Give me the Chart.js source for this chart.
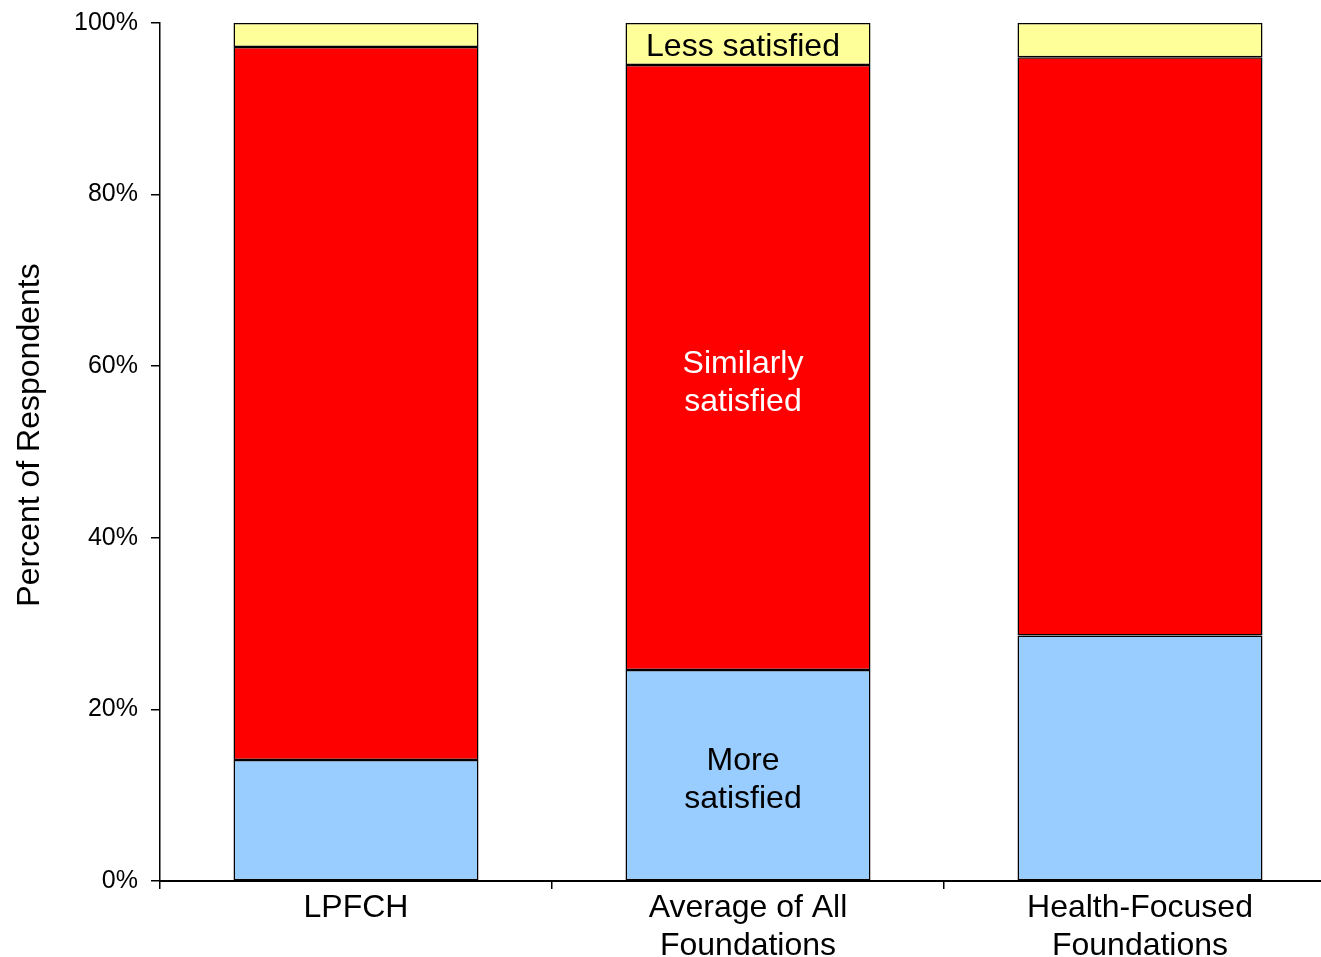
<!DOCTYPE html>
<html>
<head>
<meta charset="utf-8">
<script src="https://cdn.jsdelivr.net/npm/chart.js@4/dist/chart.umd.min.js"></script>
<style>
    html, body { margin: 0; padding: 0; background: #fff; overflow: hidden; }
    #wrap { width: 1337px; height: 957px; position: relative; }
</style>
</head>
<body>
<div id="wrap"><canvas id="satisfactionChart"></canvas></div>
<script>
// ข้อมูลของกราฟ
const categories = [['LPFCH'], ['Average of All', 'Foundations'], ['Health-Focused', 'Foundations']];
const moreSatisfied = [14.1, 24.6, 28.6];
const similarlySatisfied = [83.1, 70.5, 67.4];
const lessSatisfied = [2.8, 4.9, 4.0];
const seriesNames = ['More satisfied', 'Similarly satisfied', 'Less satisfied'];
const segmentLabels = [['More', 'satisfied'], ['Similarly', 'satisfied'], ['Less satisfied']];
const labelColors = ['#000000', '#ffffff', '#000000'];
const yTicks = [0, 20, 40, 60, 80, 100];
const yTitle = 'Percent of Respondents';

const FONT = "'Liberation Sans', Arial, sans-serif";
const labelShift = [3, 14, 1]; // เลื่อนข้อความลงเล็กน้อย (px)

// วาดข้อความบนแท่งกลาง (Average of All Foundations) + ชื่อแกน Y
const segmentLabelPlugin = {
    id: 'segmentLabels',
    afterDatasetsDraw(chart) {
        const ctx = chart.ctx;
        ctx.save();
        ctx.font = '32px ' + FONT;
        ctx.textAlign = 'center';
        ctx.textBaseline = 'middle';
        chart.data.datasets.forEach((ds, i) => {
            const bar = chart.getDatasetMeta(i).data[1];
            const lines = segmentLabels[i];
            const cy = (bar.y + bar.base) / 2 + labelShift[i];
            const lh = 38;
            ctx.fillStyle = labelColors[i];
            lines.forEach((t, k) => {
                ctx.fillText(t, bar.x - 5, cy + (k - (lines.length - 1) / 2) * lh + 2);
            });
        });

        // ชื่อแกน Y (หมุน 90 องศา)
        const area = chart.chartArea;
        ctx.fillStyle = '#000000';
        ctx.translate(30, (area.top + area.bottom) / 2 - 17);
        ctx.rotate(-Math.PI / 2);
        ctx.fillText(yTitle, 0, 0);
        ctx.restore();
    }
};

const ctx = document.getElementById('satisfactionChart');
const colors = ['#99ccff', '#ff0000', '#ffff99'];
const values = [moreSatisfied, similarlySatisfied, lessSatisfied];

new Chart(ctx, {
    type: 'bar',
    data: {
        labels: categories,
        datasets: values.map((v, i) => ({
            label: seriesNames[i],
            data: v,
            backgroundColor: colors[i],
            borderColor: '#000000',
            borderWidth: 1.5,
            borderSkipped: false,
            categoryPercentage: 1.0,
            barPercentage: 0.625
        }))
    },
    options: {
        responsive: true,
        maintainAspectRatio: false,
        animation: false,
        layout: { padding: { top: 23, right: 1, left: 0, bottom: 0 } },
        plugins: {
            legend: { display: false },
            tooltip: { enabled: false }
        },
        scales: {
            x: {
                stacked: true,
                afterFit(scale) {
                    scale.height = 76;
                    scale.paddingLeft = 0;
                    scale.paddingRight = 0;
                },
                grid: {
                    display: true,
                    drawOnChartArea: false,
                    tickLength: 8,
                    color: '#000000',
                    lineWidth: 1.5
                },
                border: { color: '#000000', width: 2 },
                ticks: {
                    color: '#000000',
                    font: { family: FONT, size: 32, lineHeight: 1.2 },
                    padding: 0,
                    maxRotation: 0,
                    autoSkip: false
                }
            },
            y: {
                stacked: true,
                min: 0,
                max: 100,
                afterFit(scale) {
                    scale.width = 160;
                    scale.paddingTop = 0;
                    scale.paddingBottom = 0;
                },
                afterBuildTicks(scale) { scale.ticks = yTicks.map(v => ({ value: v })); },
                grid: {
                    display: true,
                    drawOnChartArea: false,
                    tickLength: 9,
                    color: '#000000',
                    lineWidth: 1.5
                },
                border: { color: '#000000', width: 1.5 },
                ticks: {
                    color: '#000000',
                    font: { family: FONT, size: 25 },
                    padding: 13,
                    callback: v => v + '%'
                }
            }
        }
    },
    plugins: [segmentLabelPlugin]
});
</script>
</body>
</html>
